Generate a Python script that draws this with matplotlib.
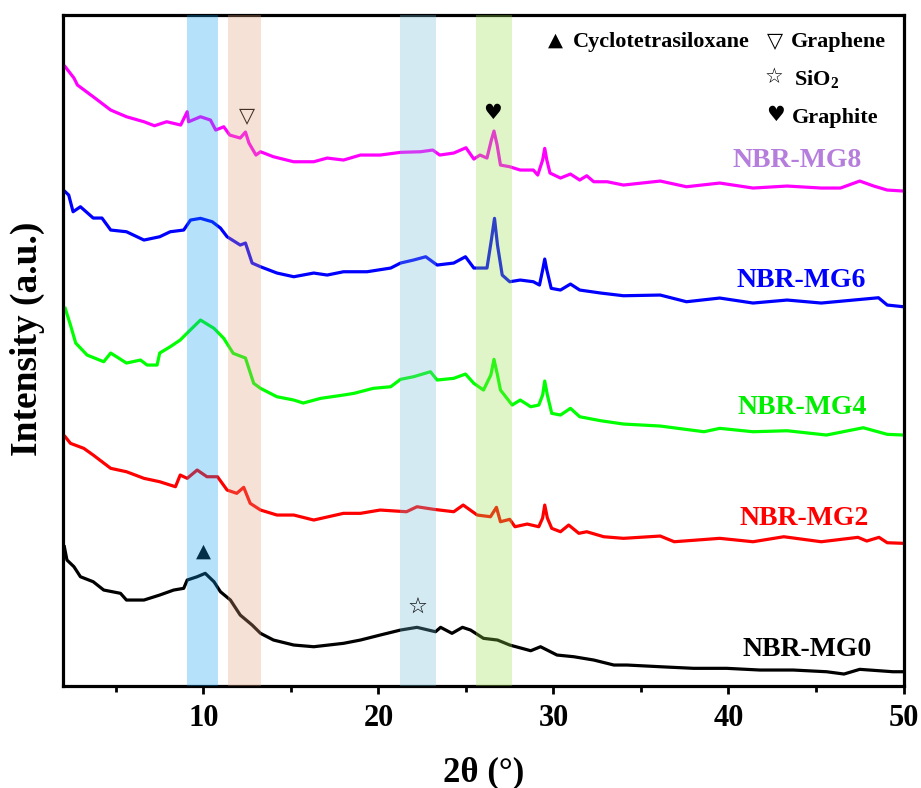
import matplotlib
matplotlib.use("Agg")
import matplotlib.pyplot as plt
from matplotlib.ticker import MultipleLocator

plt.rcParams['font.family'] = ['Liberation Serif', 'DejaVu Sans']
plt.rcParams['font.weight'] = 'bold'
plt.rcParams['mathtext.fontset'] = 'custom'
plt.rcParams['mathtext.rm'] = 'Liberation Serif:bold'
plt.rcParams['mathtext.bf'] = 'Liberation Serif:bold'

# ---- data (2theta in degrees, stacked intensity in a.u.) ----
tt_mg8 = [2.1, 2.6, 2.8, 3.7, 4.7, 5.6, 6.6, 7.2, 7.9, 8.7, 9.07, 9.15, 9.83, 10.4, 10.7, 11.16, 11.5,
          12.1, 12.4, 12.6, 13.0, 13.26, 14.0, 15.15, 16.3, 17.07, 18.0, 18.97, 20.1, 21.26, 22.4, 23.1,
          23.5, 24.3, 25.0, 25.45, 25.8, 26.2, 26.45, 26.6, 26.78, 26.97, 27.5, 28.1, 28.85, 29.1, 29.38,
          29.5, 29.62, 29.8, 30.4, 30.97, 31.5, 31.9, 32.3, 33.07, 34.0, 36.1, 37.6, 39.5, 41.4, 43.35,
          45.3, 46.4, 47.5, 48.3, 49.07, 50.0]
int_mg8 = [619.3, 608, 601, 589.3, 576, 569.3, 564.3, 560.3, 564.3, 561, 574.3, 564.3, 569.3, 566, 556,
           559.3, 551, 548, 554, 543, 531, 534.3, 529.3, 524.3, 524.3, 528, 526, 531, 531, 533.7, 534.3,
           536, 531, 533, 538.3, 527, 531, 528, 546, 555, 541, 521, 519.3, 516, 516, 511, 526, 537.7, 526,
           513, 508, 512, 506, 510.3, 504.3, 504.3, 501, 505, 499.3, 503, 498, 500, 498, 498, 505, 500,
           496, 495]

tt_mg6 = [2.1, 2.3, 2.55, 2.97, 3.7, 4.2, 4.7, 5.6, 6.6, 7.5, 8.1, 8.87, 9.26, 9.83, 10.5, 10.97, 11.35,
          12.1, 12.4, 12.78, 13.26, 14.2, 15.16, 16.3, 17.07, 18.0, 19.35, 20.7, 21.26, 22.0, 22.7, 23.35,
          24.3, 24.97, 25.45, 26.2, 26.45, 26.63, 26.8, 27.07, 27.5, 28.1, 28.85, 29.2, 29.38, 29.5, 29.62,
          29.87, 30.4, 30.97, 31.5, 32.7, 34.0, 36.1, 37.6, 39.5, 41.4, 43.35, 45.3, 47.15, 48.57, 49.07,
          50.0]
int_mg6 = [494.3, 491, 474.3, 479.3, 468, 468, 456, 454.3, 446, 449.3, 454.3, 456, 466, 467.7, 464.3,
           458, 449.3, 441, 443, 423, 419.3, 413, 409.3, 413, 411, 414.3, 414.3, 418, 423, 426, 429.3,
           421, 423, 429.3, 418, 418, 446, 467.7, 441, 411, 404.3, 406, 404.3, 401, 416, 427, 416, 397.7,
           396, 402, 396, 393, 390.3, 391, 384.3, 388, 383, 386, 383, 386, 388.3, 381, 379.3]

tt_mg4 = [2.1, 2.4, 2.7, 3.35, 4.3, 4.7, 5.6, 6.4, 6.78, 7.35, 7.5, 8.1, 8.67, 9.07, 9.83, 10.6, 11.16,
          11.7, 12.4, 12.87, 13.26, 14.2, 15.16, 15.7, 16.7, 18.0, 18.6, 19.7, 20.7, 21.26, 22.0, 22.97,
          23.35, 24.3, 24.97, 25.45, 26.0, 26.42, 26.6, 26.8, 26.97, 27.64, 28.1, 28.7, 29.16, 29.38, 29.5,
          29.65, 29.9, 30.4, 30.97, 31.5, 32.7, 34.0, 36.1, 38.6, 39.5, 41.4, 43.35, 45.6, 47.7, 49.07,
          50.0]
int_mg4 = [377.7, 361, 343, 331, 324.3, 333, 323, 326, 321, 321, 333, 339.3, 346, 353, 366, 357.7, 347.7,
           332.7, 328, 302.7, 297.7, 289.3, 286, 283, 287.7, 291, 292.7, 297.7, 299.3, 306.7, 309.3,
           314.3, 306, 307.7, 312, 302.7, 296, 311, 326.7, 311, 296, 281, 286, 279.3, 281, 291, 305, 291,
           272.7, 271, 277.7, 269.3, 265.3, 262, 260, 254.3, 257.7, 254.3, 255.3, 251, 258.3, 251.7, 251]

tt_mg2 = [2.1, 2.4, 3.16, 3.7, 4.7, 5.6, 6.6, 7.5, 8.4, 8.67, 9.07, 9.64, 10.2, 10.8, 11.35, 11.9, 12.3,
          12.67, 13.26, 14.2, 15.16, 16.3, 18.0, 18.97, 20.1, 21.6, 22.2, 23.16, 24.3, 24.84, 25.64, 26.4,
          26.74, 26.97, 27.5, 27.8, 28.5, 29.16, 29.38, 29.5, 29.65, 29.9, 30.4, 30.87, 31.45, 31.9, 32.87,
          34.0, 36.1, 36.9, 39.5, 41.4, 43.16, 45.3, 47.4, 47.9, 48.6, 49.07, 50.0]
int_mg2 = [249.3, 242.7, 237.7, 231, 217.7, 214.3, 207.7, 204.3, 199.3, 211, 207.7, 216, 209.3, 209.3,
           196, 192.7, 198.7, 182.7, 176, 171, 171, 166, 172.7, 172.7, 176, 174.3, 179.3, 176.7, 174.3,
           181, 171, 169.3, 178.7, 164.3, 166.7, 159.3, 162, 159.3, 168, 181, 168, 157.7, 154.3, 161,
           152.7, 154.3, 149.3, 147.7, 150, 144.3, 147.7, 144.3, 149.3, 144.3, 148.7, 145, 148.7, 143.3,
           142.7]

tt_mg0 = [2.05, 2.2, 2.6, 2.97, 3.7, 4.3, 5.26, 5.6, 6.6, 7.5, 8.3, 8.87, 9.07, 9.64, 10.1, 10.6, 10.97,
          11.54, 12.1, 12.78, 13.26, 14.0, 15.16, 16.3, 18.0, 18.97, 20.1, 21.26, 22.2, 23.26, 23.55, 24.2,
          24.8, 25.26, 26.0, 26.8, 27.5, 28.7, 29.26, 30.2, 31.16, 32.3, 33.45, 34.2, 36.1, 38.0, 39.9,
          41.8, 43.7, 45.6, 46.6, 47.5, 49.4, 50.0]
int_mg0 = [139.3, 126, 119.3, 109.3, 104.3, 96, 92.7, 86, 86, 91, 96, 97.7, 106, 109.3, 112.7, 104.3,
           94.3, 86, 71, 61, 52.7, 46, 41, 39.3, 42.7, 46, 51, 56, 58.7, 54.3, 58.7, 52.7, 58.7, 56, 47.7,
           46, 41, 35.3, 39.3, 31, 29.3, 26, 21, 21, 19.3, 17.7, 17.7, 16, 16, 14.3, 12, 16.7, 14.3, 14.3]

sample_names = ['NBR-MG8', 'NBR-MG6', 'NBR-MG4', 'NBR-MG2', 'NBR-MG0']
band_ranges = [(9.05, 10.85), (11.43, 13.3), (21.25, 23.3), (25.55, 27.65)]
legend_entries = ['Cyclotetrasiloxane', 'Graphene', 'SiO$_{\\mathbf{2}}$', 'Graphite']
xticks_major = [10, 20, 30, 40, 50]

# ---- styles ----
line_colors = ['#FF00FF', '#0000FF', '#00FF00', '#FF0000', '#000000']
label_colors = ['#B57EDC', '#0000FF', '#00EE00', '#FF0000', '#000000']
band_colors = ['#0F9EF5', '#E19E7A', '#73BCDA', '#98DE48']

fig = plt.figure(figsize=(9.21, 7.88), dpi=100)
ax = fig.add_axes([0.0689, 0.1294, 0.9121, 0.8515])

series = [(tt_mg8, int_mg8), (tt_mg6, int_mg6), (tt_mg4, int_mg4), (tt_mg2, int_mg2), (tt_mg0, int_mg0)]
for (xs, ys), c in zip(series, line_colors):
    ax.plot(xs, ys, color=c, lw=2.3, zorder=2, solid_joinstyle='round')

for (a, b), c in zip(band_ranges, band_colors):
    ax.axvspan(a, b, color=c, alpha=0.3, lw=0, zorder=3)

ax.set_xlim(2, 50)
ax.set_ylim(0, 671)
ax.set_yticks([])
ax.set_xticks(xticks_major)
ax.xaxis.set_minor_locator(MultipleLocator(5))
ax.tick_params(axis='x', which='major', direction='out', length=6, width=2, labelsize=22, pad=7)
ax.tick_params(axis='x', which='minor', direction='out', length=4.5, width=2)
for lab in ax.get_xticklabels():
    lab.set_fontweight('bold')
for s in ax.spines.values():
    s.set_linewidth(2.3)

ax.set_xlabel('2θ (°)', fontsize=25, fontweight='bold')
ax.xaxis.set_label_coords(0.5, -0.104)
ax.set_ylabel('Intensity (a.u.)', fontsize=27, fontweight='bold')
ax.yaxis.set_label_coords(-0.022, 0.517)

# sample labels
label_pos = [(43.94, 519), (44.14, 399), (44.2, 271.7), (44.3, 161), (44.5, 30)]
for name, (lx, ly), c in zip(sample_names, label_pos, label_colors):
    ax.text(lx, ly, name, color=c, fontsize=20, fontweight='bold', ha='center', va='baseline', zorder=5)

# phase legend
gfam = ['DejaVu Sans']
ax.text(30.14, 646, '▲', fontsize=14, family=gfam, ha='center', va='center', color='black', zorder=5)
ax.text(31.13, 639.3, legend_entries[0], fontsize=16, fontweight='bold', ha='left', va='baseline', zorder=5)
ax.text(42.66, 645, '▽', fontsize=15, family=gfam, ha='center', va='center', color='black', zorder=5)
ax.text(43.55, 639.3, legend_entries[1], fontsize=16, fontweight='bold', ha='left', va='baseline', zorder=5)
ax.text(42.6, 609, '☆', fontsize=15, family=gfam, ha='center', va='center', color='black', zorder=5)
ax.text(43.74, 601, legend_entries[2], fontsize=16, fontweight='bold', ha='left', va='baseline', zorder=5)
ax.text(42.66, 571, '♥', fontsize=15, family=gfam, ha='center', va='center', color='black', zorder=5)
ax.text(43.63, 563.3, legend_entries[3], fontsize=16, fontweight='bold', ha='left', va='baseline', zorder=5)

# peak markers on curves
ax.text(12.5, 570, '▽', fontsize=15, family=gfam, ha='center', va='center', color='black', zorder=2)
ax.text(10.0, 135, '▲', fontsize=14, family=gfam, ha='center', va='center', color='black', zorder=2)
ax.text(22.26, 78.5, '☆', fontsize=16, family=gfam, ha='center', va='center', color='black', zorder=5)
ax.text(26.5, 573.5, '♥', fontsize=15, family=gfam, ha='center', va='center', color='black', zorder=5)

fig.savefig('out.png', dpi=100)
